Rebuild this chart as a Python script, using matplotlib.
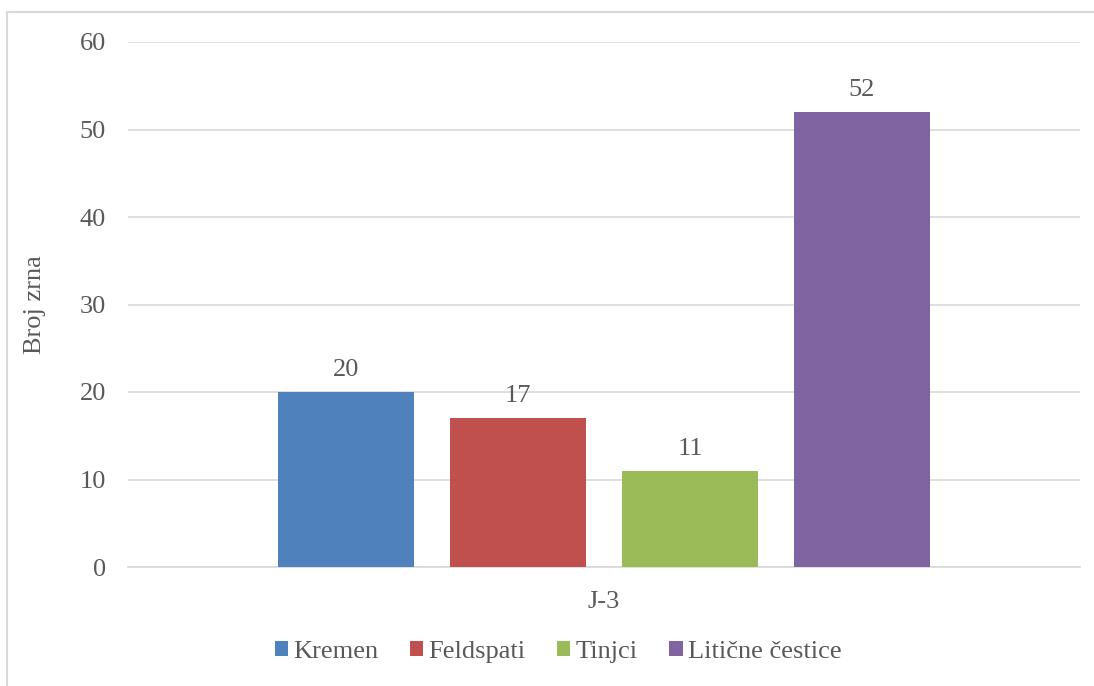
import matplotlib
matplotlib.use("Agg")
import matplotlib.pyplot as plt
from matplotlib.patches import Rectangle

# Data
category = "J-3"
series = ["Kremen", "Feldspati", "Tinjci", "Litične čestice"]
values = [20, 17, 11, 52]
colors = ["#4F81BD", "#C0504D", "#9BBB59", "#8064A2"]

TEXT = "#595959"
GRID = "#D9D9D9"
FS = 19

plt.rcParams['font.family'] = ['Liberation Serif', 'DejaVu Serif']

fig = plt.figure(figsize=(10.94, 6.86), dpi=100)
ax = fig.add_axes([128 / 1094, 1 - 567 / 686, (1080 - 128) / 1094, (567 - 42) / 686])

# chart border (cropped on right/bottom like the reference)
fig.patches.append(Rectangle((7 / 1094, -0.05), 1.2, 1 - 12 / 686 + 0.05,
                             transform=fig.transFigure, fill=False,
                             edgecolor=GRID, linewidth=1.5))

bar_w = 136 / 952
step = 172 / 952
n = len(series)
for i, (name, val, col) in enumerate(zip(series, values, colors)):
    x = (i - (n - 1) / 2) * step
    ax.bar(x, val, width=bar_w, color=col, label=name, zorder=3)
    ax.annotate(str(val), (x, val), xytext=(0, 8), textcoords='offset points',
                ha='center', va='bottom', fontsize=FS, color=TEXT)

ax.set_xlim(-0.5, 0.5)
ax.set_ylim(0, 60)
ax.set_yticks(range(0, 61, 10))
ax.set_xticks([0])
ax.set_xticklabels([category])
ax.tick_params(axis='both', length=0, labelsize=FS, colors=TEXT)
ax.tick_params(axis='y', pad=16)
ax.tick_params(axis='x', pad=17)
ax.grid(axis='y', color=GRID, linewidth=1.2, zorder=0)
for s in ['left', 'right', 'top']:
    ax.spines[s].set_visible(False)
ax.spines['bottom'].set_color(GRID)
ax.spines['bottom'].set_linewidth(1.2)

ax.set_ylabel("Broj zrna", fontsize=FS, color=TEXT)
ax.yaxis.set_label_coords(-82 / 952, 0.5)

leg = ax.legend(loc='center', bbox_to_anchor=(558 / 1094, 1 - 652 / 686),
                bbox_transform=fig.transFigure, ncol=4, frameon=False,
                fontsize=FS, handlelength=0.5, handleheight=0.5,
                handletextpad=0.2, columnspacing=1.2)
for t in leg.get_texts():
    t.set_color(TEXT)

fig.savefig("out.png", dpi=100, facecolor='white')
